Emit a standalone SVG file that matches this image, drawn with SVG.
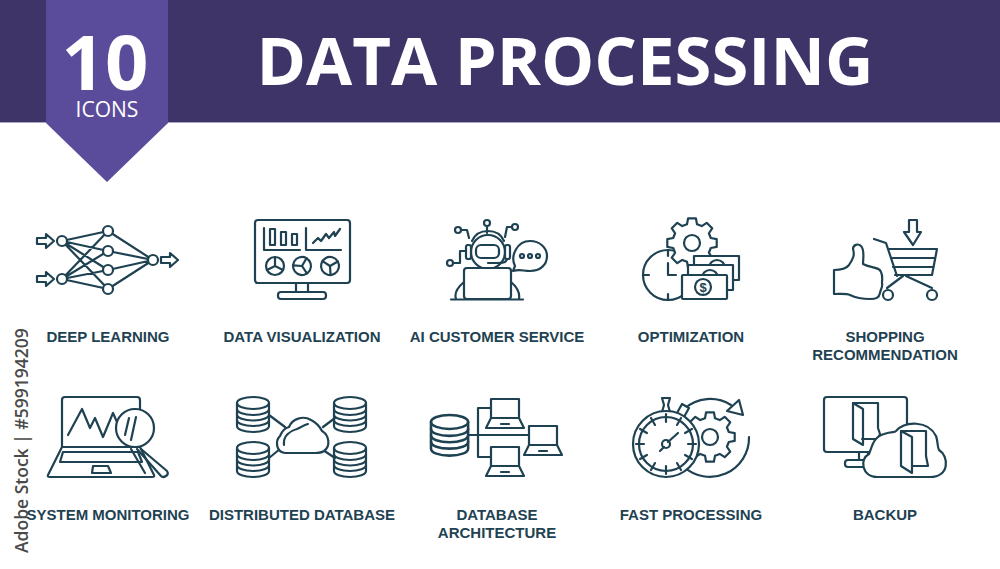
<svg xmlns="http://www.w3.org/2000/svg" width="1000" height="569" viewBox="0 0 1000 569">
<style>
.i{fill:none;stroke:#1f4252;stroke-width:2.2;stroke-linecap:round;stroke-linejoin:round}
.w{fill:#fff}
.l{font-family:"Liberation Sans",Arial,sans-serif;font-weight:700;font-size:15px;fill:#1f4252;text-anchor:middle}
.h{font-family:"Open Sans",sans-serif;fill:#fff}
</style>
<defs>
<path id="gear" d="M18.8-5L24.7-3.9L24.7 3.9L18.8 5L16.9 9.75L20.2 14.7L14.7 20.2L9.75 16.9L5 18.8L3.9 24.7L-3.9 24.7L-5 18.8L-9.75 16.9L-14.7 20.2L-20.2 14.7L-16.9 9.75L-18.8 5L-24.7 3.9L-24.7-3.9L-18.8-5L-16.9-9.75L-20.2-14.7L-14.7-20.2L-9.75-16.9L-5-18.8L-3.9-24.7L3.9-24.7L5-18.8L9.75-16.9L14.7-20.2L20.2-14.7L16.9-9.75Z"/>
<g id="db" class="i">
<ellipse cx="16" cy="6" rx="16" ry="6"/>
<path d="M0 6V29C0 32.5 7 35 16 35S32 32.5 32 29V6"/>
<path d="M0 12C0 15.5 7 18 16 18S32 15.5 32 12M0 17.500C0 21 7 23.500 16 23.500S32 21 32 17.500M0 23C0 26.500 7 29 16 29S32 26.500 32 23"/>
</g>
<path id="arrow" d="M0-3H9V-7L17 0L9 7V3H0Z"/>
<g id="lap" class="i">
<path class="w" d="M5 0H33V19H5Z"/>
<path class="w" d="M5 19H33L38 29H0Z"/>
<path d="M15 25H23"/>
</g>
<g id="pie"><circle r="9"/><path d="M0 0V-9M0 0L8 4M0 0L-8 4"/></g>
<line id="tick" x1="666" y1="414" x2="666" y2="422"/>
</defs>

<g id="header">
<rect x="0" y="0" width="1000" height="122" fill="#3e3468"/>
<rect x="0" y="122" width="1000" height="1" fill="#a9a3c6"/>
<path d="M46 0H168V123L107 182L46 123Z" fill="#5b4c9b"/>
<text class="h" x="105" y="90" font-size="76" font-weight="700" text-anchor="middle">10</text>
<text class="h" x="107" y="117" font-size="21" text-anchor="middle">ICONS</text>
<text class="h" x="565" y="85" font-size="67" font-weight="700" text-anchor="middle">DATA PROCESSING</text>
</g>

<text id="credit" x="28" y="553" transform="rotate(-90 28 553)" font-family="Open Sans,sans-serif" font-size="17.500" font-weight="600" fill="#4a4a4a">Adobe Stock | #599194209</text>

<g id="connectors" class="i">
<path d="M62 241L108 231M62 241L108 251M62 241L108 270M62 241L108 289M62 279L108 231M62 279L108 251M62 279L108 270M62 279L108 289M108 231L153 260M108 251L153 260M108 270L153 260M108 289L153 260"/>
<path d="M269 415L285 427M269 458L280 449M335 418L323 427M335 458L323 450"/>
<path d="M468 435H529M478 408V457M478 408H491M478 457H491"/>
</g>

<g id="deep-learning" class="i">
<use href="#arrow" x="37" y="241"/><use href="#arrow" x="37" y="279"/><use href="#arrow" x="161" y="260"/>
<g class="w"><circle cx="62" cy="241" r="5"/><circle cx="62" cy="279" r="5"/><circle cx="108" cy="231" r="5"/><circle cx="108" cy="251" r="5"/><circle cx="108" cy="270" r="5"/><circle cx="108" cy="289" r="5"/><circle cx="153" cy="260" r="5"/></g>
</g>
<text class="l" x="108" y="342">DEEP LEARNING</text>

<g id="data-visualization" class="i">
<rect x="255" y="220" width="95" height="63" rx="3"/>
<path d="M296 283V292M308 283V292"/>
<rect x="278" y="292" width="48" height="7" rx="3"/>
<path d="M264 228V250H300M306 228V250H341"/>
<rect x="270" y="229" width="5" height="16"/><rect x="281" y="232" width="5" height="13"/><rect x="292" y="234" width="5" height="11"/>
<path d="M313 243L318 238L321 241L326 234L329 238L334 232L335 236L340 229"/>
<use href="#pie" x="275" y="266"/><use href="#pie" x="302" y="266" transform="rotate(30 302 266)"/><use href="#pie" x="330" y="266" transform="rotate(60 330 266)"/>
</g>
<text class="l" x="302" y="342">DATA VISUALIZATION</text>

<g id="ai-customer-service" class="i">
<circle cx="487" cy="223" r="3"/><circle cx="458" cy="230" r="3"/><circle cx="515" cy="227" r="3"/><circle cx="450" cy="263" r="3"/>
<path d="M487 226V233M461 230H467L469 238M512 227H507L505 237M453 263H460V251H466"/>
<circle class="w" cx="488" cy="252" r="17"/>
<path d="M472 241C475 234 481 231 488 231C495 231 501 234 504 241"/>
<rect x="466" y="245" width="5" height="14" rx="2"/><rect x="505" y="245" width="5" height="14" rx="2"/>
<rect x="476" y="245" width="23" height="13" rx="5"/>
<path d="M507 259C506 263 502 263 497 263H488"/>
<path d="M464 282C458 287 454 293 456 299M511 282C517 287 520 293 519 299"/>
<rect class="w" x="464" y="268" width="47" height="31" rx="3"/>
<path d="M451 299.500H523"/>
<path d="M513 271L515 266C510 256 517 241 530 241C540 241 547 248 547 256C547 265 540 271 530 271C523 271 520 269 513 271Z"/>
<circle cx="522" cy="256" r="2"/><circle cx="530" cy="256" r="2"/><circle cx="538" cy="256" r="2"/>
</g>
<text class="l" x="497" y="342">AI CUSTOMER SERVICE</text>

<g id="optimization" class="i">
<circle cx="668" cy="275" r="25"/>
<path d="M643 275H649M668 250V256M668 294V300M668 263V275H676"/>
<use href="#gear" x="692" y="243" class="w"/>
<circle class="w" cx="692" cy="243" r="8"/>
<rect class="w" x="694" y="256" width="45" height="24"/>
<circle class="w" cx="717" cy="268" r="8"/>
<rect class="w" x="688" y="265" width="45" height="25"/>
<circle class="w" cx="710" cy="278" r="8"/>
<rect class="w" x="682" y="275" width="45" height="24" rx="1"/>
<circle cx="703" cy="287" r="8"/>
</g>
<text x="703" y="292" font-family="Liberation Sans,sans-serif" font-size="13" font-weight="700" fill="#1f4252" text-anchor="middle">$</text>
<text class="l" x="691" y="342">OPTIMIZATION</text>

<g id="shopping-recommendation" class="i">
<path d="M909 220H917V232H921L913 245L904 232H909Z"/>
<path d="M874 239L886 243L897 276"/>
<path d="M888 249H937L932 275H895M891 258H935M893 267H933"/>
<path d="M903 276L887 288M906 276L932 288"/>
<circle cx="888" cy="295" r="5"/><circle cx="932" cy="295" r="5"/>
<path d="M834 270C840 270 846 269 849 265C853 259 855 255 853 249C853 245 858 243 861 246C865 250 863 258 863 264C870 268 880 267 881 272C883 276 882 280 882 283C883 288 880 290 880 293C879 298 876 299 870 299C860 299 856 298 850 295C846 293 840 294 834 294Z"/>
</g>
<text class="l" x="885" y="342">SHOPPING</text>
<text class="l" x="885" y="360">RECOMMENDATION</text>

<g id="system-monitoring" class="i">
<path d="M62 447V400Q62 397 65 397H137Q140 397 140 400V447"/>
<path d="M68 435L82 409L90 428L95 418L103 437L113 413L117 422"/>
<path d="M62 447L48 475Q47 477 50 477H152Q155 477 154 475L140 447Z"/>
<path d="M63 452H138L142 462H60Z"/>
<path d="M93 466H108L111 473H92Z"/>
<path d="M141 449L167 471Q169 474 166 476Q163 478 161 476L137 449M145 473L131 449"/>
<circle class="w" cx="135" cy="428" r="19"/>
<path d="M125 435L129 418M131 440L136 417"/>
</g>
<text class="l" x="108" y="520">SYSTEM MONITORING</text>

<g id="distributed-database">
<use href="#db" x="237" y="397"/><use href="#db" x="237" y="442"/><use href="#db" x="334" y="397"/><use href="#db" x="334" y="442"/>
<g class="i">
<path class="w" d="M285 453C276 452 275 441 280 436C282 431 285 428 289 427C292 419 303 415 311 420C317 423 320 427 322 431C329 435 331 446 324 451C321 453 318 453 315 453Z"/>
<path d="M284 445C283 436 290 431 297 429C302 427 303 425 308 424"/>
</g>
</g>
<text class="l" x="302" y="520">DISTRIBUTED DATABASE</text>

<g id="database-architecture">
<use href="#db" transform="translate(431 415) scale(1.16)"/>
<use href="#lap" x="486" y="399"/><use href="#lap" x="524" y="426"/><use href="#lap" x="486" y="447"/>
</g>
<text class="l" x="497" y="520">DATABASE</text>
<text class="l" x="497" y="538">ARCHITECTURE</text>

<g id="fast-processing" class="i">
<path d="M731 405A39 39 0 0 0 684 409M749 437A39 39 0 0 1 683 466"/>
<path class="w" d="M739 400L743 415L727 411Z"/>
<use href="#gear" x="710" y="437" class="w"/>
<circle cx="710" cy="437" r="8"/>
<path class="w" d="M662 412L664 405L662 398H670L668 405L670 412Z"/>
<path class="w" d="M677 413L682 404L689 408L684 417Z"/>
<circle class="w" cx="666" cy="444" r="33"/>
<circle cx="666" cy="444" r="27"/>
<use href="#tick"/><use href="#tick" transform="rotate(30 666 444)"/><use href="#tick" transform="rotate(60 666 444)"/><use href="#tick" transform="rotate(90 666 444)"/><use href="#tick" transform="rotate(120 666 444)"/><use href="#tick" transform="rotate(150 666 444)"/><use href="#tick" transform="rotate(180 666 444)"/><use href="#tick" transform="rotate(210 666 444)"/><use href="#tick" transform="rotate(240 666 444)"/><use href="#tick" transform="rotate(270 666 444)"/><use href="#tick" transform="rotate(300 666 444)"/><use href="#tick" transform="rotate(330 666 444)"/>
<path d="M660 451L664 447M668 442L678 433"/>
<circle cx="666" cy="444" r="4"/>
</g>
<text class="l" x="691" y="520">FAST PROCESSING</text>

<g id="backup" class="i">
<rect x="824" y="397" width="83" height="55" rx="3"/>
<path d="M859 452V460M868 452V460"/>
<rect x="845" y="460" width="22" height="7" rx="3"/>
<path d="M853 403H878V428L880 434L878 439H862"/>
<path d="M853 403L863 409V445L853 439Z"/>
<path class="w" d="M877 477C862 477 859 459 869 454C872 447 873 437 884 434C893 431 894 433 896 431C905 421 928 420 936 436C938 441 937 446 939 450C949 456 950 477 930 477Z"/>
<path d="M901 431H926V456L928 466H912"/>
<path class="w" d="M901 431L912 437V473L901 466Z"/>
</g>
<text class="l" x="885" y="520">BACKUP</text>
</svg>
